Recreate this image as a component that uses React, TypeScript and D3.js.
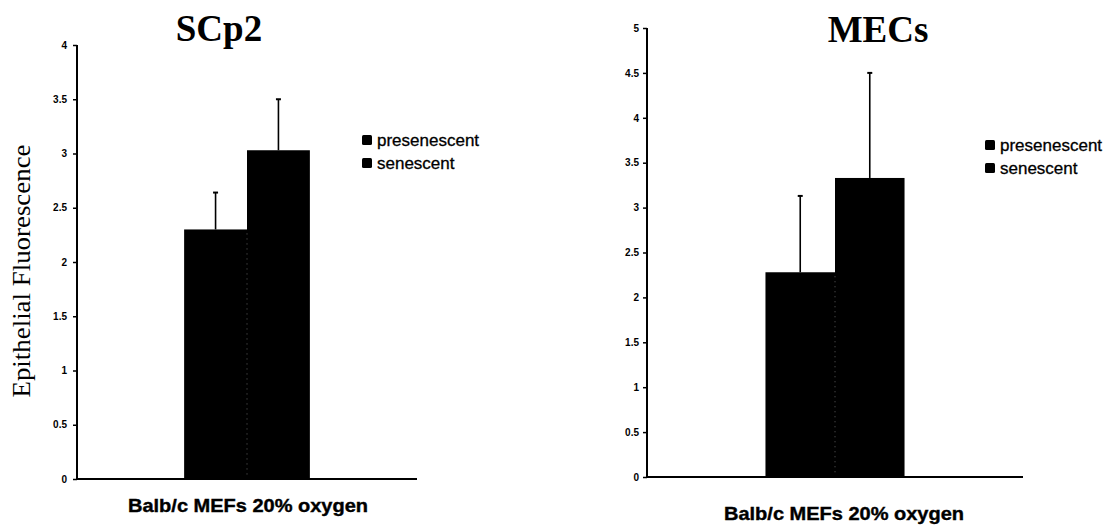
import { useEffect, useRef } from 'react';
import * as d3 from 'd3';

const categories = ['Balb/c MEFs 20% oxygen'];
const seriesNames = ['presenescent', 'senescent'];

const scp2Means = [2.3, 3.03];
const scp2Errors = [0.34, 0.47];
const scp2Ticks = [0, 0.5, 1, 1.5, 2, 2.5, 3, 3.5, 4];

const mecMeans = [2.28, 3.33];
const mecErrors = [0.85, 1.17];
const mecTicks = [0, 0.5, 1, 1.5, 2, 2.5, 3, 3.5, 4, 4.5, 5];

const yAxisLabel = 'Epithelial Fluorescence';

interface PanelConfig {
  title: string;
  means: number[];
  errors: number[];
  ticks: number[];
  left: number;
  right: number;
  bottom: number;
  top: number;
  titleX: number;
  titleY: number;
  xLabelX: number;
  xLabelY: number;
  legendX: number;
  legendY: number;
  tickPadding: number;
  showYLabel: boolean;
}

const panels: PanelConfig[] = [
  {
    title: 'SCp2', means: scp2Means, errors: scp2Errors, ticks: scp2Ticks,
    left: 77, right: 417, bottom: 479, top: 45,
    titleX: 219, titleY: 41, xLabelX: 248, xLabelY: 512,
    legendX: 362, legendY: 140, tickPadding: 6, showYLabel: true
  },
  {
    title: 'MECs', means: mecMeans, errors: mecErrors, ticks: mecTicks,
    left: 647, right: 1023, bottom: 477, top: 28,
    titleX: 878, titleY: 42, xLabelX: 844, xLabelY: 520,
    legendX: 985, legendY: 145, tickPadding: 4, showYLabel: false
  }
];

function drawPanel(svg: d3.Selection<SVGSVGElement, unknown, null, undefined>, p: PanelConfig) {
  const g = svg.append('g');

  const y = d3.scaleLinear()
    .domain([0, p.ticks[p.ticks.length - 1]])
    .range([p.bottom, p.top]);

  const x = d3.scaleBand<string>()
    .domain(categories)
    .range([p.left, p.right])
    .paddingInner(0.46)
    .paddingOuter(0.46);

  const xSub = d3.scaleBand<string>()
    .domain(seriesNames)
    .range([0, x.bandwidth()]);

  const rows = seriesNames.map((name, i) => ({ name, mean: p.means[i], err: p.errors[i] }));

  // Bars
  const group = g.append('g')
    .attr('transform', `translate(${x(categories[0])},0)`);

  group.selectAll('rect')
    .data(rows)
    .enter()
    .append('rect')
    .attr('x', d => xSub(d.name) as number)
    .attr('y', d => y(d.mean))
    .attr('width', xSub.bandwidth())
    .attr('height', d => y(0) - y(d.mean))
    .attr('fill', '#000');

  // faint dotted seam between the two bars
  group.append('line')
    .attr('x1', xSub(seriesNames[1]) as number)
    .attr('x2', xSub(seriesNames[1]) as number)
    .attr('y1', y(Math.min(...p.means)) + 4)
    .attr('y2', y(0))
    .attr('stroke', '#777')
    .attr('stroke-width', 0.8)
    .attr('stroke-dasharray', '1,4');

  // Error bars (upper half)
  rows.forEach(d => {
    const cx = (xSub(d.name) as number) + xSub.bandwidth() / 2;
    group.append('line')
      .attr('x1', cx).attr('x2', cx)
      .attr('y1', y(d.mean))
      .attr('y2', y(d.mean + d.err))
      .attr('stroke', '#000')
      .attr('stroke-width', 1.6);
    group.append('line')
      .attr('x1', cx - 2.5).attr('x2', cx + 2.5)
      .attr('y1', y(d.mean + d.err))
      .attr('y2', y(d.mean + d.err))
      .attr('stroke', '#000')
      .attr('stroke-width', 2);
  });

  // Y axis
  const yAxis = d3.axisLeft(y)
    .tickValues(p.ticks)
    .tickSize(4)
    .tickPadding(p.tickPadding)
    .tickFormat(d => String(d));

  const yg = g.append('g')
    .attr('transform', `translate(${p.left},0)`)
    .call(yAxis);
  yg.select('.domain')
    .attr('stroke', '#000')
    .attr('stroke-width', 2)
    .attr('d', `M0,${p.bottom + 1}V${p.top}`);
  yg.selectAll('.tick line').attr('stroke', '#000').attr('stroke-width', 1.5);
  yg.selectAll('.tick text')
    .attr('fill', '#000')
    .attr('font-family', '"Liberation Sans", Arial, sans-serif')
    .attr('font-weight', 'bold')
    .attr('font-size', '10px');

  // X axis (baseline only)
  const xAxis = d3.axisBottom(x).tickSize(0).tickFormat(() => '');
  const xg = g.append('g')
    .attr('transform', `translate(0,${p.bottom})`)
    .call(xAxis);
  xg.select('.domain')
    .attr('stroke', '#000')
    .attr('stroke-width', 2)
    .attr('d', `M${p.left},0H${p.right}`);

  // Category label
  g.append('text')
    .attr('x', p.xLabelX)
    .attr('y', p.xLabelY)
    .attr('text-anchor', 'middle')
    .attr('font-family', '"Liberation Sans", Arial, sans-serif')
    .attr('font-weight', 'bold')
    .attr('font-size', '19px')
    .attr('stroke', '#000')
    .attr('stroke-width', 0.4)
    .attr('textLength', 240)
    .attr('lengthAdjust', 'spacingAndGlyphs')
    .text(categories[0]);

  // Title
  g.append('text')
    .attr('x', p.titleX)
    .attr('y', p.titleY)
    .attr('text-anchor', 'middle')
    .attr('font-family', '"Liberation Serif", "Times New Roman", serif')
    .attr('font-weight', 'bold')
    .attr('font-size', '37px')
    .text(p.title);

  // Legend
  const legend = g.append('g')
    .attr('transform', `translate(${p.legendX},${p.legendY})`);
  seriesNames.forEach((name, i) => {
    const row = legend.append('g').attr('transform', `translate(0,${i * 23})`);
    row.append('rect')
      .attr('x', 0)
      .attr('y', -5)
      .attr('width', 10)
      .attr('height', 10)
      .attr('rx', 1.5)
      .attr('fill', '#000');
    row.append('text')
      .attr('x', 15)
      .attr('y', 5.5)
      .attr('font-family', '"Liberation Sans", Arial, sans-serif')
      .attr('font-size', '17px')
      .attr('fill', '#000')
      .attr('stroke', '#000')
      .attr('stroke-width', 0.3)
      .text(name);
  });

  if (p.showYLabel) {
    const cy = 271;
    g.append('text')
      .attr('transform', `translate(30,${cy}) rotate(-90)`)
      .attr('text-anchor', 'middle')
      .attr('font-family', '"Liberation Serif", "Times New Roman", serif')
      .attr('font-size', '25px')
      .attr('textLength', 253)
      .attr('lengthAdjust', 'spacingAndGlyphs')
      .text(yAxisLabel);
  }
}

export default function App() {
  const svgRef = useRef<SVGSVGElement>(null);

  useEffect(() => {
    if (!svgRef.current) return;
    document.body.style.margin = '0';

    const svg = d3.select(svgRef.current);
    svg.selectAll('*').remove();

    svg.append('rect')
      .attr('width', 1117)
      .attr('height', 527)
      .attr('fill', '#fff');

    panels.forEach(p => drawPanel(svg, p));
  }, []);

  return (
    <svg ref={svgRef} width={1117} height={527} style={{ display: 'block' }} />
  );
}
